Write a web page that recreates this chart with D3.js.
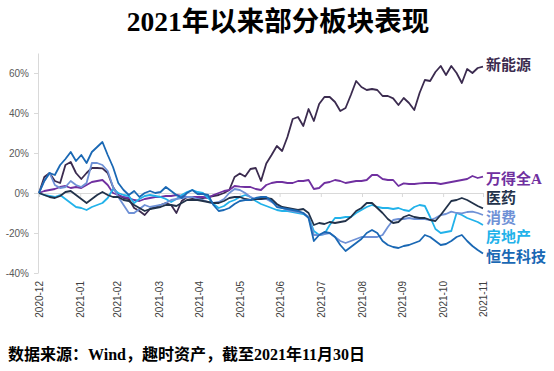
<!DOCTYPE html>
<html><head><meta charset="utf-8">
<script src="https://cdn.jsdelivr.net/npm/d3@7"></script>
<style>
html,body{margin:0;padding:0;background:#fff;}
svg{display:block;}
</style></head>
<body>
<svg id="chart" width="554" height="371"></svg>
<script>
// ---- data (cumulative return, %) sampled evenly from 2020-12-31 to 2021-11-30 ----
const seriesNames = ["新能源", "万得全A", "医药", "消费", "房地产", "恒生科技"];
const startDate = "2020-12-31";
const endDate = "2021-11-30";
const monthLabels = ["2020-12","2021-01","2021-02","2021-03","2021-04","2021-05","2021-06","2021-07","2021-08","2021-09","2021-10","2021-11"];
const yTicks = [-40, -20, 0, 20, 40, 60];

const newEnergy = [0,8,10,6,5,14,15.5,10,7,10,12.5,12.5,12.3,10,3,-1,-2.5,-3,-7.5,-9,-11,-8,-7,-6,-5,-6,-10,-4,-2,-2.5,-2.7,-2.5,-2,-1.5,-1,0,1.5,8,9.8,8.2,12,12.5,6,14.8,19,23.5,21,28,37,38,33.5,42,36,44.5,48,48,45.5,41,42.5,49,56,53,51.5,52,51.5,48.5,48.5,47.3,44,47.5,45,41.5,50,56.5,56,60.5,63.5,59,63.5,60,55,62,60,62.5,63.2];
const windA = [0,1,1.5,2,3,3.5,2.5,3,2.5,4,5.5,6,6.5,4,0,-1,-2,-2.5,-3.5,-4,-3,-2.5,-2,-2,-1.5,-1.5,-1,-1.5,-2,-2,-2,-2,-2.5,-1,0,1,1.5,3.5,3.2,3,3,2,1.5,4,5,5.5,5.5,5,5,6,6,6.5,2,2.5,5,5.5,6.5,6,5,5.5,6,6,6.5,9,9,7,6.5,6.5,3.5,4.8,4.5,4.5,4.8,5,5,5,4.5,5,5.5,6,6.5,7,8.5,7.5,8.2];
const pharma = [0,-1,-2,-2.5,-1.5,0.5,1,-1,-3,-5,-3,-1,0.5,-1,-2,-2,-3.5,-4,-6,-7.5,-9,-8,-7.5,-7,-6,-6,-6.5,-5,-3.5,-3.5,-3.5,-4,-4.5,-5,-5,-4,-2.5,-2,-2,-3,-3.5,-3,-3,-2.5,-3,-5.5,-7,-7.5,-8,-8.5,-8,-10,-16,-15,-15.5,-14.5,-15,-14.5,-14,-12,-9,-7.5,-5,-5,-7.5,-10,-13,-15,-14.5,-12,-11,-12,-12.5,-12.5,-13.5,-14,-11,-7.5,-4,-3.5,-2.5,-3.5,-5,-6.5,-7.7];
const consumer = [0,6,10,4,2.5,3,6,4,3,5,15,15,14,11,3,-2,-6,-10,-10,-8,-6,-7,-6.5,-6,-5,-3.5,-3,-2.5,-2,-2,-3,-3.5,-4.5,-5,-4.5,-3,0,2,1.5,0,-2,-3,-3,-3,-4.5,-6,-7.5,-8.5,-9,-9.5,-10,-12,-21,-21,-20.5,-20,-22,-24,-25,-24,-23,-22,-22,-22,-22,-21,-17,-13.5,-13,-13,-12.5,-13,-13,-13,-13.5,-12.5,-11,-10.5,-9.3,-10,-10.2,-9.5,-9.3,-10,-11];
const realty = [0,-1,-1.5,-2,-1,-3,-5,-7,-7.5,-8.5,-7,-6,-5,-2.5,2,0,-1,-1.5,-5,-3,-1.5,-1,-1.5,-2,-3,-4.5,-3,-1,0.5,1.5,0.5,0,-2.5,-5.5,-7.5,-6.5,-4.5,-3.5,-2,-1,-2,-4,-5.5,-6.5,-7.5,-8.5,-9,-9,-9.5,-10,-10.5,-12,-19,-21,-20.5,-16,-12.5,-12.5,-12,-12,-10,-8.5,-7,-6,-7,-7.5,-7.5,-8,-7.5,-8.5,-9,-7,-6,-6.5,-12,-18,-20,-19.5,-19,-10,-11,-12.5,-13.5,-14.5,-16];
const hstech = [0,6,10,9,14,17,20.5,16,19,15,20.5,23,25.5,19,13,5,1.5,-1,1,-2,0,1,0,0.5,3,1,-1,-2.5,0,1.5,-0.5,-0.5,-1,-6,-9,-8.5,-7.5,-5.5,-4,-3.5,-3.5,-2.5,-2,-2,-4,-7,-7.5,-8,-8.5,-9,-10,-12.5,-24,-21,-19.5,-20,-22,-26,-29,-27,-25,-23,-20,-18.5,-20,-24,-26,-27,-27.5,-26.5,-26,-25,-24,-21,-22,-24,-26,-25.5,-24,-22,-21,-24,-26.5,-28.5,-30.2];

const seriesValues = [newEnergy, windA, pharma, consumer, realty, hstech];
const seriesColors = ["#3b2b4f", "#7030a0", "#22324a", "#6f91d6", "#22b2ea", "#1a68b4"];

// ---- drawing ----
const svg = d3.select("#chart");
const parse = d3.timeParse("%Y-%m-%d");
const t0 = parse(startDate), t1 = parse(endDate);
const x = d3.scaleTime().domain([t0, t1]).range([39, 483]);
const y = d3.scaleLinear().domain([-40, 70]).range([273, 53]);
const CJK = "'Liberation Serif','Noto Sans CJK SC',serif";

// title
svg.append("text").attr("x", 278).attr("y", 31).attr("text-anchor", "middle")
  .style("font-family", CJK).style("font-weight", 700).style("font-size", "27.5px").attr("fill", "#000")
  .text("2021年以来部分板块表现");

// y axis
const gy = svg.append("g").attr("transform", "translate(38,0)")
  .call(d3.axisLeft(y).tickValues(yTicks).tickSize(4).tickSizeOuter(0).tickPadding(5).tickFormat(d => d + "%"));
gy.select(".domain").attr("stroke", "#d9d9d9");
gy.selectAll(".tick line").attr("stroke", "#d9d9d9");
gy.selectAll(".tick text").attr("fill", "#595959").style("font-family", "'Liberation Sans',Arial,sans-serif").style("font-size", "10px");

// month-end ticks
const monthEnds = monthLabels.map(s => { const p = s.split("-"); return new Date(+p[0], +p[1], 0); });
const fmt = d3.timeFormat("%Y-%m");

// zero axis line with tick marks
const gz = svg.append("g").attr("transform", `translate(0,${y(0)})`)
  .call(d3.axisBottom(x).tickValues(monthEnds).tickSize(4).tickSizeOuter(0).tickFormat(""));
gz.select(".domain").attr("stroke", "#d9d9d9");
gz.selectAll(".tick line").attr("stroke", "#d9d9d9");

// bottom labels
const gx = svg.append("g").attr("transform", "translate(0,281)")
  .call(d3.axisBottom(x).tickValues(monthEnds).tickSize(0).tickFormat(fmt));
gx.select(".domain").remove();
gx.selectAll(".tick text")
  .attr("transform", "rotate(-90)").attr("text-anchor", "end").attr("x", 0).attr("y", 0).attr("dy", "0.35em").attr("dx", 0)
  .attr("fill", "#404040").style("font-family", "'Liberation Sans',Arial,sans-serif").style("font-size", "10px");

// lines
const n = newEnergy.length;
const tIdx = d3.scaleLinear().domain([0, n - 1]).range([t0.getTime(), t1.getTime()]);
const line = d3.line().x((d, i) => x(new Date(tIdx(i)))).y(d => y(d));
const drawOrder = [0, 1, 4, 3, 2, 5];
drawOrder.forEach(k => {
  svg.append("path").datum(seriesValues[k]).attr("d", line)
    .attr("fill", "none").attr("stroke", seriesColors[k]).attr("stroke-width", 1.8)
    .attr("stroke-linejoin", "round");
});

// end labels with simple collision avoidance
const labels = seriesNames.map((name, k) => ({ name, k, target: y(seriesValues[k][n - 1]) }));
labels.sort((a, b) => a.target - b.target);
const gap = 19.5;
let groups = labels.map(l => ({ items: [l], mean: l.target }));
let merged = true;
while (merged) {
  merged = false;
  for (let i = 0; i < groups.length - 1; i++) {
    const g1 = groups[i], g2 = groups[i + 1];
    const end1 = g1.mean + (g1.items.length - 1) * gap / 2;
    const start2 = g2.mean - (g2.items.length - 1) * gap / 2;
    if (start2 - end1 < gap) {
      const items = g1.items.concat(g2.items);
      const mean = d3.mean(items, d => d.target);
      groups.splice(i, 2, { items, mean });
      merged = true; break;
    }
  }
}
groups.forEach(g => g.items.forEach((l, j) => { l.pos = g.mean + (j - (g.items.length - 1) / 2) * gap; }));
labels.forEach(l => {
  const off = l.k === 0 ? -1.5 : 2;
  svg.append("text").attr("x", 486).attr("y", l.pos + off).attr("dy", "0.35em")
    .style("font-family", CJK).style("font-weight", 700).style("font-size", "15px")
    .attr("fill", seriesColors[l.k]).text(l.name);
});

// footer
svg.append("text").attr("x", 8).attr("y", 360)
  .style("font-family", CJK).style("font-weight", 700).style("font-size", "16px").attr("fill", "#000")
  .text("数据来源：Wind，趣时资产，截至2021年11月30日");
</script>
</body></html>
